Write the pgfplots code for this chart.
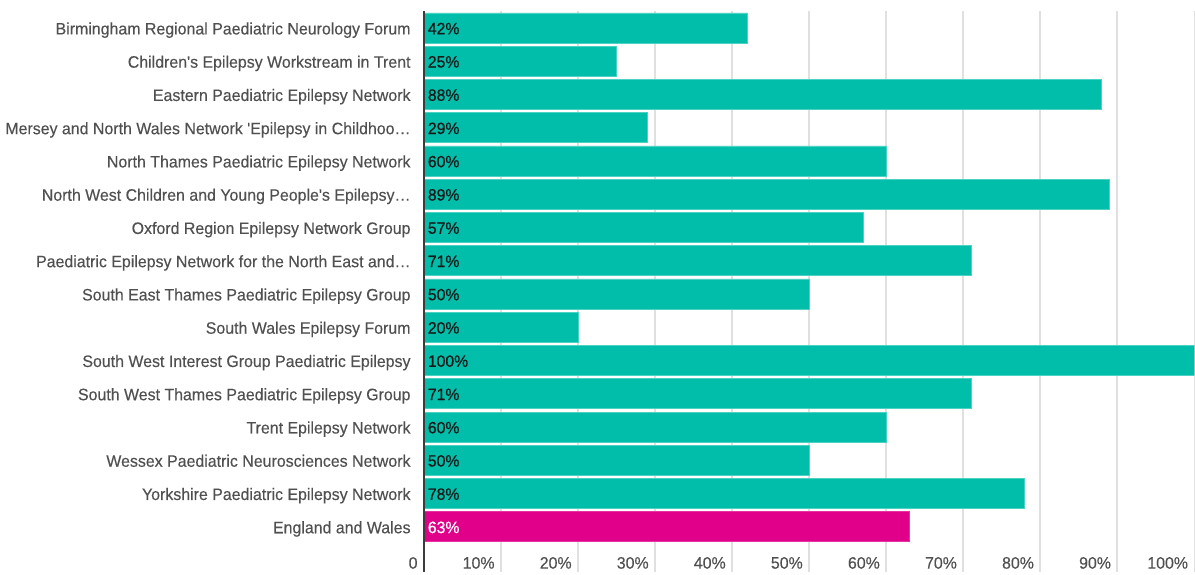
\documentclass[border=0pt]{standalone}
\usepackage{fontspec}
\setmainfont{Liberation Sans}[Ligatures=TeXOff, FakeStretch=0.96, FakeBold=0.25]
\newfontfamily\valfont{Liberation Sans}[FakeBold=0.7, FakeStretch=0.96]
\usepackage{pgfplots}
\pgfplotsset{compat=1.18}
\usepackage{pgfplotstable}
\definecolor{barteal}{RGB}{0,190,170}
\definecolor{barmag}{RGB}{224,0,138}
\definecolor{lbl}{RGB}{80,80,80}
\definecolor{gridc}{RGB}{224,224,224}
\definecolor{axc}{RGB}{60,60,60}
\newcommand{\cf}{\fontsize{16.6bp}{19bp}\selectfont}
\newcommand{\vf}{\valfont\fontsize{16.4bp}{19bp}\selectfont}

\pgfplotstableread{
idx start val
0 0 42
1 0 25
2 0 88
3 0 29
4 0 60
5 0 89
6 0 57
7 0 71
8 0 50
9 0 20
10 0 100
11 0 71
12 0 60
13 0 50
14 0 78
}\regional
\pgfplotstableread{
idx start val
15 0 63
}\national

\begin{document}
\begin{tikzpicture}
\begin{axis}[
  name=ax,
  scale only axis,
  width=771bp, height=561bp,
  xmin=0, xmax=100,
  ymin=-0.51, ymax=16.35,
  y dir=reverse,
  axis line style={draw=none},
  major tick length=0pt,
  xmajorgrids,
  grid style={color=gridc, line width=1.5bp},
  xtick={0,10,20,30,40,50,60,70,80,90,100},
  xticklabels={0,10\%,20\%,30\%,40\%,50\%,60\%,70\%,80\%,90\%,100\%},
  xticklabel style={font=\cf, text=lbl, anchor=base east, inner sep=0pt, xshift=-6bp, yshift=3bp},
  typeset ticklabels with strut=false,
  ytick={0,...,15},
  yticklabels={
    Birmingham Regional Paediatric Neurology Forum,
    Children's Epilepsy Workstream in Trent,
    Eastern Paediatric Epilepsy Network,
    Mersey and North Wales Network 'Epilepsy in Childhoo…,
    North Thames Paediatric Epilepsy Network,
    North West Children and Young People's Epilepsy…,
    Oxford Region Epilepsy Network Group,
    Paediatric Epilepsy Network for the North East and…,
    South East Thames Paediatric Epilepsy Group,
    South Wales Epilepsy Forum,
    South West Interest Group Paediatric Epilepsy,
    South West Thames Paediatric Epilepsy Group,
    Trent Epilepsy Network,
    Wessex Paediatric Neurosciences Network,
    Yorkshire Paediatric Epilepsy Network,
    England and Wales},
  yticklabel style={font=\cf, text=lbl, anchor=base east, inner sep=0pt, xshift=-13bp, yshift=-6.5bp},
]
\addplot[xbar, bar shift=0pt, bar width=30bp, fill=barteal, draw=barteal!70!white, line width=0.6bp]
  table[x=val, y=idx] {\regional};
\addplot[xbar, bar shift=0pt, bar width=30bp, fill=barmag, draw=barmag!80!white, line width=0.6bp]
  table[x=val, y=idx] {\national};
\addplot[draw=none, mark=none, point meta=explicit,
  nodes near coords={\pgfmathprintnumber[assume math mode=true]{\pgfplotspointmeta}\%},
  every node near coord/.style={font=\vf, text=black!90, anchor=base west, inner sep=0pt, xshift=4bp, yshift=-6.3bp}]
  table[x=start, y=idx, meta=val] {\regional};
\addplot[draw=none, mark=none, point meta=explicit,
  nodes near coords={\pgfmathprintnumber[assume math mode=true]{\pgfplotspointmeta}\%},
  every node near coord/.style={font=\vf, text=white, anchor=base west, inner sep=0pt, xshift=4bp, yshift=-6.3bp}]
  table[x=start, y=idx, meta=val] {\national};
\end{axis}
\draw[axc, line width=2bp] (ax.south west) -- (ax.north west);
\path ([xshift=-424bp]ax.south west) rectangle ([yshift=11bp]ax.north east);
\end{tikzpicture}
\end{document}
